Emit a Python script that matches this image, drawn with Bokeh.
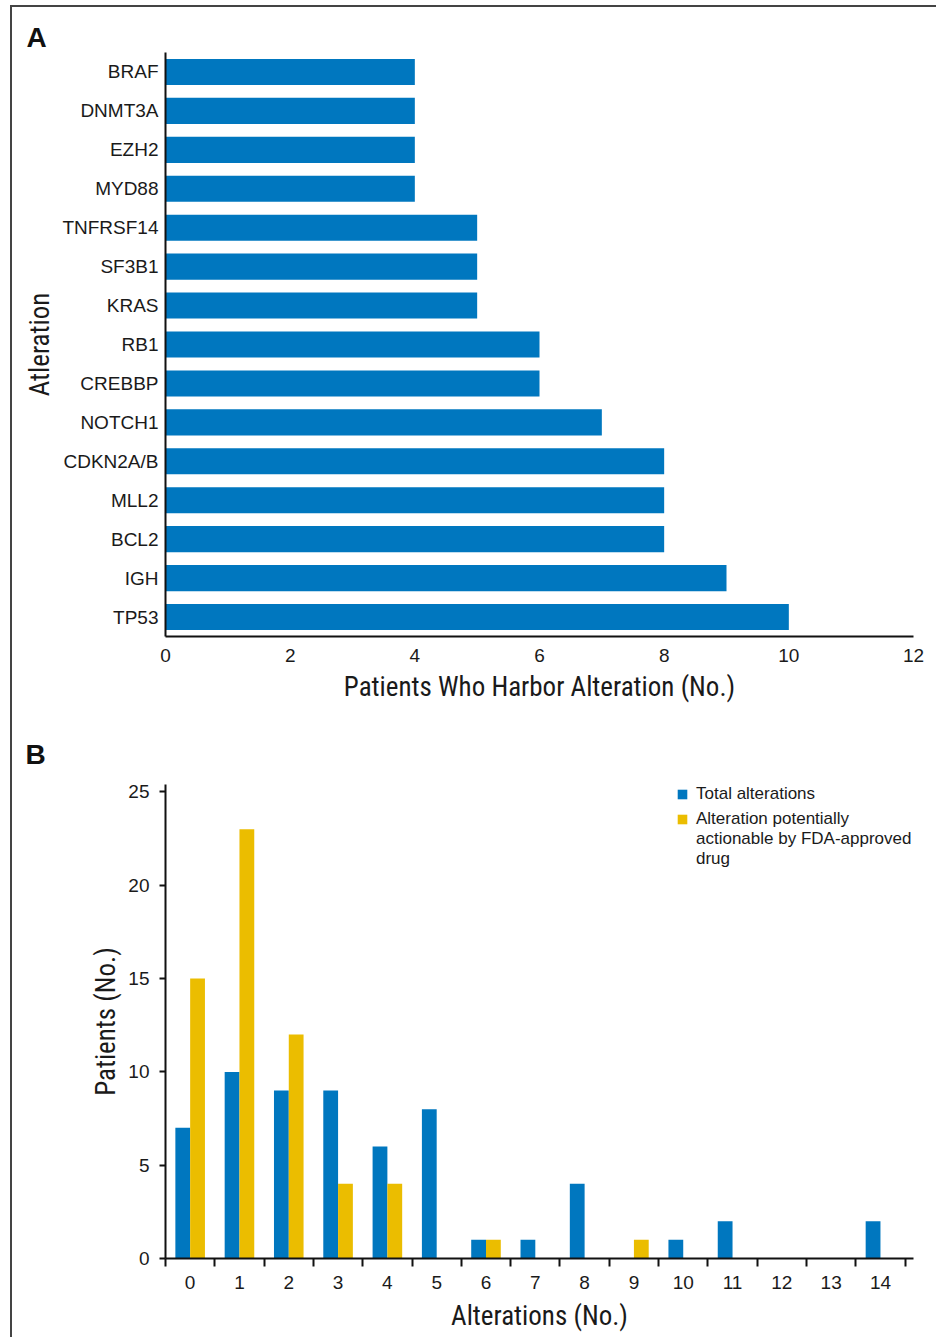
from bokeh.plotting import figure
from bokeh.models import FactorRange, Range1d, FixedTicker, Legend, LegendItem
from bokeh.layouts import column
from bokeh.embed import file_html
from bokeh.resources import INLINE

# ---- data ----
genes = ["BRAF", "DNMT3A", "EZH2", "MYD88", "TNFRSF14", "SF3B1", "KRAS", "RB1",
         "CREBBP", "NOTCH1", "CDKN2A/B", "MLL2", "BCL2", "IGH", "TP53"]
gene_patients = [4, 4, 4, 4, 5, 5, 5, 6, 6, 7, 8, 8, 8, 9, 10]
a_xticks = [0, 2, 4, 6, 8, 10, 12]

alteration_counts = list(range(15))
total_alterations = [7, 10, 9, 9, 6, 8, 1, 1, 4, 0, 1, 2, 0, 0, 2]
actionable_alterations = [15, 23, 12, 4, 4, 0, 1, 0, 0, 1, 0, 0, 0, 0, 0]
b_yticks = [0, 5, 10, 15, 20, 25]

BLUE = "#0077BF"
GOLD = "#EBBD00"
TXT = "#1a1a1a"
TICK_FONT = "Liberation Sans"
TITLE_FONT = "Liberation Sans Narrow, Roboto Condensed, Liberation Sans"


def style_title(p, standoff, offset):
    p.title.text_font = TICK_FONT
    p.title.text_font_size = "28px"
    p.title.text_font_style = "bold"
    p.title.text_color = "#111111"
    p.title.align = "left"
    p.title.standoff = standoff
    p.title.offset = offset


# ---- Panel A ----
pA = figure(width=924, height=713, output_backend="svg", toolbar_location=None,
            title="A",
            y_range=FactorRange(factors=list(reversed(genes))), x_range=Range1d(0, 12),
            min_border_left=153, min_border_right=23, min_border_top=45, min_border_bottom=84)
style_title(pA, 0, -139)
pA.hbar(y=genes, right=gene_patients, height=0.67, color=BLUE, line_color=None)
pA.xaxis.ticker = FixedTicker(ticks=a_xticks)
pA.xaxis.axis_label = "Patients Who Harbor Alteration (No.)"
pA.yaxis.axis_label = "Atleration"

for ax in (pA.xaxis[0], pA.yaxis[0]):
    ax.major_tick_out = 0
    ax.major_tick_in = 0
    ax.minor_tick_out = 0
    ax.minor_tick_in = 0
    ax.axis_line_width = 2
    ax.axis_line_color = "#111111"
    ax.major_label_text_font = TICK_FONT
    ax.major_label_text_font_size = "19px"
    ax.major_label_text_color = TXT
    ax.axis_label_text_font = TITLE_FONT
    ax.axis_label_text_font_size = "27px"
    ax.axis_label_text_font_style = "normal"
    ax.axis_label_text_color = TXT
pA.xaxis.major_label_standoff = 12
pA.xaxis.axis_label_standoff = 6
pA.yaxis.major_label_standoff = 7
pA.yaxis.axis_label_standoff = 3
pA.xgrid.grid_line_color = None
pA.ygrid.grid_line_color = None
pA.outline_line_color = None

# ---- Panel B ----
pB = figure(width=924, height=617, output_backend="svg", toolbar_location=None,
            title="B",
            x_range=Range1d(-0.5, 14.67), y_range=Range1d(0, 25.4),
            min_border_left=153, min_border_right=23, min_border_top=64, min_border_bottom=79)
style_title(pB, 30, -140)
xs_blue = [c - 0.15 for c in alteration_counts]
xs_gold = [c + 0.15 for c in alteration_counts]
r_blue = pB.vbar(x=xs_blue, top=total_alterations, width=0.3, color=BLUE, line_color=None)
r_gold = pB.vbar(x=xs_gold, top=actionable_alterations, width=0.3, color=GOLD, line_color=None)
r_blank = pB.vbar(x=[], top=[], width=0.3, fill_alpha=0, line_alpha=0)

pB.xaxis.ticker = FixedTicker(ticks=alteration_counts,
                              minor_ticks=[c - 0.5 for c in alteration_counts] + [14.5])
pB.yaxis.ticker = FixedTicker(ticks=b_yticks)
pB.xaxis.axis_label = "Alterations (No.)"
pB.yaxis.axis_label = "Patients (No.)"
for ax in (pB.xaxis[0], pB.yaxis[0]):
    ax.axis_line_width = 2
    ax.axis_line_color = "#111111"
    ax.major_tick_line_width = 2
    ax.minor_tick_line_width = 2
    ax.major_tick_line_color = "#111111"
    ax.minor_tick_line_color = "#111111"
    ax.major_label_text_font = TICK_FONT
    ax.major_label_text_font_size = "19px"
    ax.major_label_text_color = TXT
    ax.axis_label_text_font = TITLE_FONT
    ax.axis_label_text_font_size = "27px"
    ax.axis_label_text_font_style = "normal"
    ax.axis_label_text_color = TXT
pB.xaxis.major_tick_out = 0
pB.xaxis.major_tick_in = 0
pB.xaxis.minor_tick_out = 8
pB.xaxis.minor_tick_in = 0
pB.xaxis.major_label_standoff = 9
pB.xaxis.axis_label_standoff = 8
pB.yaxis.major_tick_out = 6
pB.yaxis.major_tick_in = 0
pB.yaxis.minor_tick_out = 0
pB.yaxis.minor_tick_in = 0
pB.yaxis.major_label_standoff = 10
pB.yaxis.axis_label_standoff = 3
pB.xgrid.grid_line_color = None
pB.ygrid.grid_line_color = None
pB.outline_line_color = None

legend_kw = dict(padding=0, margin=0, spacing=0, border_line_color=None,
                 background_fill_alpha=0, glyph_width=12, glyph_height=12, label_standoff=8,
                 label_height=19, label_text_font=TICK_FONT, label_text_font_size="17px",
                 label_text_color=TXT)
legend1 = Legend(items=[LegendItem(label="Total alterations", renderers=[r_blue])],
                 location=(511, 454), **legend_kw)
legend2 = Legend(items=[
    LegendItem(label="Alteration potentially", renderers=[r_gold]),
    LegendItem(label="actionable by FDA-approved", renderers=[r_blank]),
    LegendItem(label="drug", renderers=[r_blank]),
], location=(511, 389), **legend_kw)
pB.add_layout(legend1)
pB.add_layout(legend2)

layout = column(pA, pB, spacing=0,
                styles={"margin-left": "10px", "margin-top": "5px",
                        "border-left": "2px solid #444444", "border-top": "2px solid #444444"})

open("out.html", "w").write(file_html(layout, INLINE))
